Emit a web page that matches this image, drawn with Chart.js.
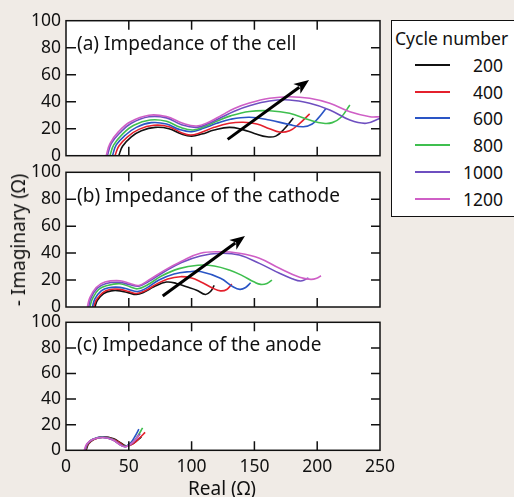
<!DOCTYPE html>
<html>
<head>
<meta charset="utf-8">
<script src="https://cdn.jsdelivr.net/npm/chart.js@4.4.1/dist/chart.umd.min.js"></script>
<style>
  body { margin: 0; width: 514px; height: 497px; overflow: hidden; position: relative; background: #f0ebe6; font-family: "Noto Sans", sans-serif; color: #111; }
  canvas { position: absolute; left: 0; top: 0; }
  #legend { position: absolute; left: 391px; top: 20px; width: 140px; height: 195px; border: 1.5px solid #111; background: #fff; }
  #legend .head { position: absolute; left: 3px; top: 5px; font-size: 17.5px; white-space: nowrap; }
  #legend .row { position: absolute; left: 0; width: 111px; height: 20px; }
  #legend .row i { position: absolute; left: 23px; top: 9px; width: 35px; height: 2px; }
  #legend .row span { position: absolute; right: 0; top: -2px; font-size: 17.5px; line-height: 24px; }
  #ytitle { position: absolute; left: 18px; top: 240px; transform: translate(-50%, -50%) rotate(-90deg); font-size: 19px; white-space: nowrap; }
  #xtitle { position: absolute; left: 222px; top: 488px; transform: translate(-50%, -50%); font-size: 19px; white-space: nowrap; }
</style>
</head>
<body>
<canvas id="pa" width="514" height="497"></canvas>
<canvas id="pb" width="514" height="497"></canvas>
<canvas id="pc" width="514" height="497"></canvas>
<div id="legend"></div>
<div id="ytitle">- Imaginary (Ω)</div>
<div id="xtitle">Real (Ω)</div>
<script>
// cycle numbers and colours
const cycles = ['200', '400', '600', '800', '1000', '1200'];
const colors = ['#111111', '#e4202c', '#2a55c5', '#3fbf4f', '#6e4fc0', '#cf5fc6'];

const xTicks = [0, 50, 100, 150, 200, 250];
const yTicks = [0, 20, 40, 60, 80, 100];

// (a) cell  [real, -imag]
const cell_200 = [[42,0],[45,7],[52,14],[60,18.5],[71,21],[82,20],[92,16],[100,14.5],[108,16],[118,19],[130,21],[140,19.5],[150,16.5],[160,14],[167,14.5],[173,19],[181,28]];
const cell_400 = [[39,0],[42,7],[49,14],[58,19.5],[70,22.5],[82,21.5],[92,17],[99,15.3],[107,17],[118,21],[130,24],[141,24.8],[152,23.5],[162,20],[170,17.5],[178,18.5],[185,23],[194,31]];
const cell_600 = [[37,0],[40,8],[47,15],[56,21],[68,24.5],[80,23.5],[90,19.5],[100,17.8],[110,20.5],[120,24],[131,27],[146,28.5],[162,26.5],[178,23],[189,21.5],[196,23.5],[201,28],[207,35]];
const cell_800 = [[35,0],[38,8],[45,16],[54,22.5],[67,26.4],[80,25.5],[91,21],[101,19],[110,21.5],[120,25.5],[131,29.5],[146,32.8],[162,33.3],[178,31.4],[194,26.4],[205,24],[212,24.5],[219,28.5],[226,37.6]];
const cell_1000 = [[33,0],[36,9],[43,17],[52,24],[66,28.8],[80,28],[92,23],[104,21],[114,24],[124,28.5],[134,33],[146,37],[162,40.5],[178,41.3],[194,38.8],[210,33.9],[226,26.4],[239,24],[250,27.7]];
const cell_1200 = [[32,0],[35,9],[42,18],[51,25],[66,30],[80,29],[93,24],[104,22],[114,25],[124,30],[134,35],[146,39],[162,42.5],[178,43.7],[194,42.5],[210,38.8],[226,32.6],[242,28.9],[250,28.9]];

// (b) cathode
const cath_200 = [[23,0],[25,5],[30,10],[36,12],[43,12],[50,10.5],[56,9.3],[62,11],[70,15],[80,18.5],[88,17.5],[96,15],[104,12.5],[111,9.3],[115,11.5],[118,16]];
const cath_400 = [[22,0],[24,5],[29,10.5],[35,13],[43,13.1],[50,11.5],[56,10],[63,12],[72,17],[81,20.8],[91,22.5],[100,21.5],[107,18.8],[117,13.9],[123,12],[128,13],[132,17]];
const cath_600 = [[21,0],[23,6],[28,12],[34,14.3],[43,14.6],[50,13],[57,11.5],[64,14],[74,20],[86,24.5],[98,26.2],[107,26.3],[123,21.3],[133,15],[138.5,13.1],[143,14.5],[147,18]];
const cath_800 = [[19,0],[21,6],[26,13],[33,16],[43,17.3],[51,15],[57,13.5],[65,16.5],[76,23],[90,28.5],[105,31],[118,30.5],[130,27.5],[140,23.5],[150,18.5],[155,16.8],[160,17.5],[164,20]];
const cath_1000 = [[18,0],[20,7],[25,14],[32,17.5],[43,18.3],[51,16.5],[58,15.5],[66,19],[78,26],[92,33],[107,37.9],[123,39.9],[138,38.6],[154,32.4],[170,25],[180,21],[187,19.3],[193,21.5]];
const cath_1200 = [[17,0],[19,7],[24,14.5],[31,18.5],[43,19.5],[51,17.5],[58,16],[66,20],[78,27],[92,34],[107,39.9],[123,41],[138,39.9],[154,36.2],[170,28.7],[186,22],[195,20.5],[200,21.5],[203,23.2]];

// (c) anode
const anode_200 = [[16,0],[18,5],[22,8.5],[30,10.6],[38,9],[44,5.5],[48,3.5],[53,5],[57,8],[60,10.5]];
const anode_400 = [[15.5,0],[17.5,5],[22,8.5],[30,10.3],[38,8.5],[44,5],[48,3],[54,5.5],[59,10],[63,14]];
const anode_600 = [[15,0],[17,5],[21,8.5],[29,10.3],[37,8.5],[43,4.5],[47,3],[52,6.5],[55,11],[58,16.5]];
const anode_800 = [[15,0],[17,5],[21,8.5],[29,10.2],[37,8.5],[43,4.5],[47.5,3],[53,6],[57,11],[61,17.5]];
const anode_1000 = [[15,0],[17,5],[21,8.5],[29,10],[37,8.3],[43,4.5],[47,2.8],[52,5],[56,9],[59,13]];
const anode_1200 = [[14.5,0],[16.5,5],[21,8.5],[29,10],[37,8.2],[43,4.3],[47,2.8],[51,4.5],[55,8],[58,12]];

// trend arrows: [tail, head]
const arrowCell = [[128.7, 12.1], [193.5, 56]];
const arrowCath = [[77, 8.2], [142.5, 52.7]];

const panels = [
  { id: 'pa', label: '(a) Impedance of the cell', top: 20.7, bottom: 155.7, series: [cell_200, cell_400, cell_600, cell_800, cell_1000, cell_1200], arrow: arrowCell, xLabels: false },
  { id: 'pb', label: '(b) Impedance of the cathode', top: 172.3, bottom: 307, series: [cath_200, cath_400, cath_600, cath_800, cath_1000, cath_1200], arrow: arrowCath, xLabels: false },
  { id: 'pc', label: '(c) Impedance of the anode', top: 322.3, bottom: 450.3, series: [anode_200, anode_400, anode_600, anode_800, anode_1000, anode_1200], arrow: null, xLabels: true }
];

const W = 514, H = 497, LEFT = 66, RIGHT = 380;

const framePlugin = {
  id: 'frame',
  beforeDraw(chart) {
    const { ctx, chartArea: a } = chart;
    ctx.save();
    ctx.fillStyle = '#ffffff';
    ctx.fillRect(a.left, a.top, a.right - a.left, a.bottom - a.top);
    ctx.restore();
  },
  afterDraw(chart, args, opts) {
    const { ctx, chartArea: a, scales } = chart;
    ctx.save();
    // arrow
    if (opts.arrow) {
      const x0 = scales.x.getPixelForValue(opts.arrow[0][0]);
      const y0 = scales.y.getPixelForValue(opts.arrow[0][1]);
      const x1 = scales.x.getPixelForValue(opts.arrow[1][0]);
      const y1 = scales.y.getPixelForValue(opts.arrow[1][1]);
      const ang = Math.atan2(y1 - y0, x1 - x0);
      const hl = 15, hw = 6;
      const bx = x1 - hl * Math.cos(ang), by = y1 - hl * Math.sin(ang);
      ctx.strokeStyle = '#000';
      ctx.lineWidth = 3;
      ctx.beginPath();
      ctx.moveTo(x0, y0);
      ctx.lineTo(bx + 3 * Math.cos(ang), by + 3 * Math.sin(ang));
      ctx.stroke();
      ctx.fillStyle = '#000';
      ctx.beginPath();
      ctx.moveTo(x1, y1);
      ctx.lineTo(bx - hw * Math.sin(ang), by + hw * Math.cos(ang));
      ctx.lineTo(bx + 4 * Math.cos(ang), by + 4 * Math.sin(ang));
      ctx.lineTo(bx + hw * Math.sin(ang), by - hw * Math.cos(ang));
      ctx.closePath();
      ctx.fill();
    }
    // frame and inward ticks
    ctx.strokeStyle = '#111';
    ctx.lineWidth = 1.5;
    ctx.strokeRect(a.left, a.top, a.right - a.left, a.bottom - a.top);
    ctx.beginPath();
    yTicks.slice(1, -1).forEach(v => {
      const y = scales.y.getPixelForValue(v);
      ctx.moveTo(a.left, y); ctx.lineTo(a.left + 10, y);
      ctx.moveTo(a.right, y); ctx.lineTo(a.right - 9, y);
    });
    xTicks.slice(1, -1).forEach(v => {
      const x = scales.x.getPixelForValue(v);
      ctx.moveTo(x, a.top); ctx.lineTo(x, a.top + 9);
      ctx.moveTo(x, a.bottom); ctx.lineTo(x, a.bottom - 9);
    });
    ctx.stroke();
    // panel label
    ctx.fillStyle = '#111';
    ctx.font = '19px "Noto Sans"';
    ctx.textBaseline = 'middle';
    ctx.fillText(opts.label, a.left + 11, scales.y.getPixelForValue(82));
    ctx.restore();
  }
};

panels.forEach(p => {
  const datasets = p.series.map((pts, i) => ({
    label: cycles[i],
    data: pts.map(d => ({ x: d[0], y: d[1] })),
    borderColor: colors[i],
    borderWidth: 1.6,
    pointRadius: 0,
    tension: 0.4,
    fill: false,
    order: cycles.length - i
  }));
  new Chart(document.getElementById(p.id), {
    type: 'line',
    data: { datasets },
    options: {
      responsive: false,
      animation: false,
      events: [],
      layout: { padding: { left: 0, top: p.top, right: W - RIGHT, bottom: 0 } },
      plugins: {
        legend: { display: false },
        tooltip: { enabled: false },
        frame: { label: p.label, arrow: p.arrow }
      },
      scales: {
        x: {
          type: 'linear', min: 0, max: 250,
          afterFit: s => { s.height = H - p.bottom; },
          afterBuildTicks: s => { s.ticks = xTicks.map(v => ({ value: v })); },
          grid: { display: false, drawTicks: false },
          border: { display: false },
          ticks: { display: p.xLabels, color: '#111', padding: 6, maxRotation: 0, font: { family: 'Noto Sans', size: 17.5 } }
        },
        y: {
          type: 'linear', min: 0, max: 100,
          afterFit: s => { s.width = LEFT; },
          afterBuildTicks: s => { s.ticks = yTicks.map(v => ({ value: v })); },
          grid: { display: false, drawTicks: false },
          border: { display: false },
          ticks: { color: '#111', padding: 5, font: { family: 'Noto Sans', size: 17.5 } }
        }
      }
    },
    plugins: [framePlugin]
  });
});

// legend
const lg = document.getElementById('legend');
const head = document.createElement('div');
head.className = 'head';
head.textContent = 'Cycle number';
lg.appendChild(head);
cycles.forEach((c, i) => {
  const row = document.createElement('div');
  row.className = 'row';
  row.style.top = Math.round(34 + i * 26.7) + 'px';
  const ln = document.createElement('i');
  ln.style.background = colors[i];
  const tx = document.createElement('span');
  tx.textContent = c;
  row.appendChild(ln);
  row.appendChild(tx);
  lg.appendChild(row);
});
</script>
</body>
</html>
